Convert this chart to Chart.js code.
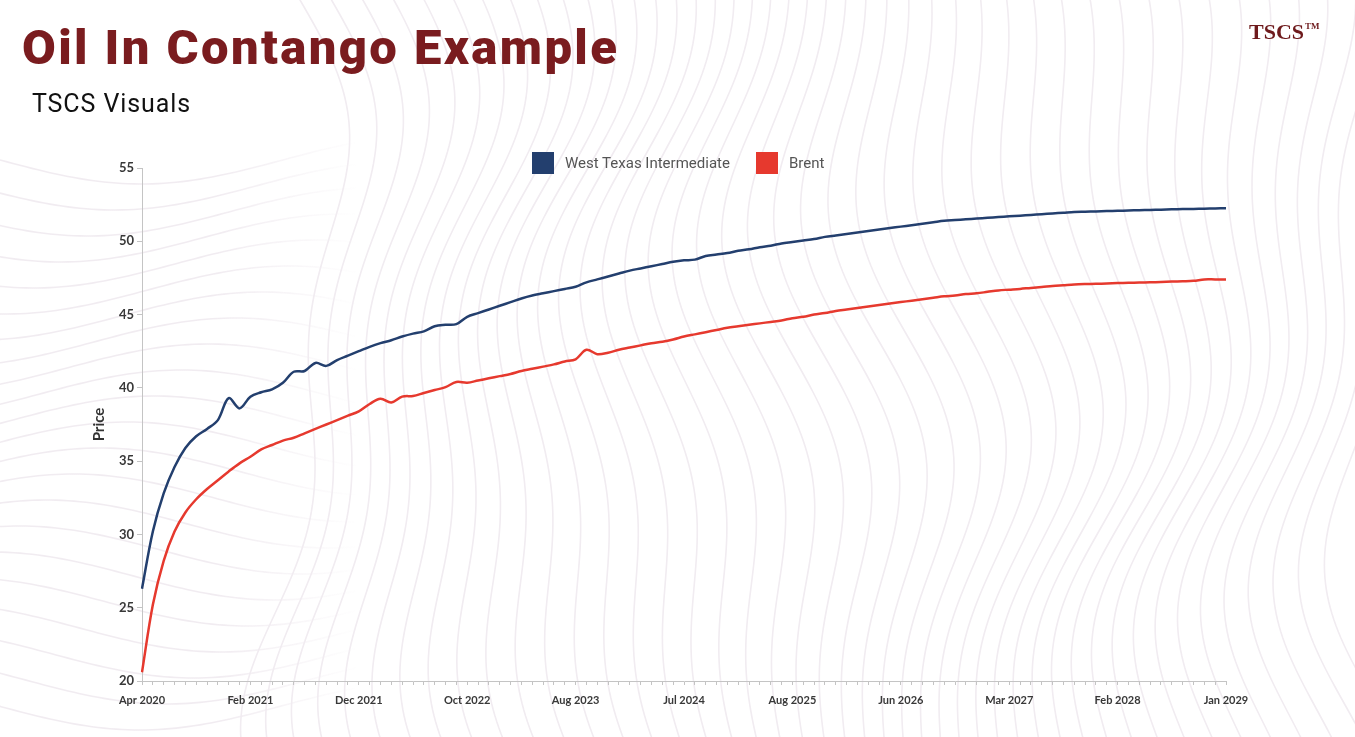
<!DOCTYPE html>
<html>
<head>
<meta charset="utf-8">
<title>Oil In Contango Example</title>
<script src="https://cdn.jsdelivr.net/npm/chart.js@4.4.1/dist/chart.umd.min.js"></script>
<style>
  html, body { margin: 0; padding: 0; background: #fff; }
  body { width: 1355px; height: 737px; position: relative; overflow: hidden; font-family: Roboto, sans-serif; }
  #bg { position: absolute; left: 0; top: 0; }
  #title { position: absolute; left: 22px; top: 19px; margin: 0; font: 900 49px Roboto, sans-serif; color: #7a1c1f; letter-spacing: 2.4px; }
  #subtitle { position: absolute; left: 32px; top: 89px; font: 400 25px Roboto, sans-serif; color: #111; letter-spacing: 0.9px; }
  #brand { position: absolute; left: 1249px; top: 19px; font: 700 22px "Liberation Serif", serif; color: #6e1a1c; }
  #brand sup { font-size: 9px; vertical-align: 10px; margin-left: 1px; }
  #chartBox { position: absolute; left: 0; top: 0; width: 1355px; height: 737px; }
  #legend { position: absolute; top: 152px; left: 532px; display: flex; align-items: center; font: 400 15px Roboto, sans-serif; color: #555; }
  #legend .item { display: flex; align-items: center; margin-right: 26px; }
  #legend .box { width: 22px; height: 22px; margin-right: 11px; }
</style>
</head>
<body>
<canvas id="bg" width="1355" height="737"></canvas>
<h1 id="title">Oil In Contango Example</h1>
<div id="subtitle">TSCS Visuals</div>
<div id="brand">TSCS<sup>TM</sup></div>
<div id="chartBox"><canvas id="oilChart"></canvas></div>
<div id="legend"></div>

<script>
// axis labels shown every 10th contract
const tickLabels = ['Apr 2020', 'Feb 2021', 'Dec 2021', 'Oct 2022', 'Aug 2023', 'Jul 2024',
  'Aug 2025', 'Jun 2026', 'Mar 2027', 'Feb 2028', 'Jan 2029'];

// futures curve, one value per contract (101 contracts)
const wti = [
  26.3, 30.2, 32.8, 34.6, 35.9, 36.7, 37.2, 37.8, 39.3, 38.6,
  39.4, 39.7, 39.9, 40.35, 41.1, 41.15, 41.7, 41.5, 41.9, 42.2,
  42.5, 42.8, 43.05, 43.25, 43.5, 43.7, 43.85, 44.2, 44.3, 44.35,
  44.85, 45.1, 45.35, 45.6, 45.85, 46.1, 46.3, 46.45, 46.6, 46.75,
  46.9, 47.2, 47.4, 47.6, 47.8, 48.0, 48.15, 48.3, 48.45, 48.6,
  48.7, 48.75, 49.0, 49.1, 49.2, 49.35, 49.45, 49.6, 49.7, 49.85,
  49.95, 50.05, 50.15, 50.3, 50.4, 50.5, 50.6, 50.7, 50.8, 50.9,
  51.0, 51.1, 51.2, 51.3, 51.4, 51.45, 51.5, 51.55, 51.6, 51.65,
  51.7, 51.75, 51.8, 51.85, 51.9, 51.95, 52.0, 52.02, 52.04, 52.06,
  52.08, 52.1, 52.12, 52.14, 52.16, 52.18, 52.2, 52.21, 52.22, 52.24,
  52.25
];

const brent = [
  20.6, 25.2, 28.2, 30.2, 31.5, 32.4, 33.1, 33.7, 34.3, 34.85,
  35.3, 35.8, 36.1, 36.4, 36.6, 36.9, 37.2, 37.5, 37.8, 38.1,
  38.4, 38.9, 39.25, 39.0, 39.4, 39.45, 39.65, 39.85, 40.05, 40.4,
  40.35, 40.5, 40.65, 40.8, 40.95, 41.15, 41.3, 41.45, 41.6, 41.8,
  41.95, 42.6, 42.3, 42.4, 42.6, 42.75, 42.9, 43.05, 43.15, 43.3,
  43.5, 43.65, 43.8, 43.95, 44.1, 44.2, 44.3, 44.4, 44.5, 44.6,
  44.75, 44.85, 45.0, 45.1, 45.25, 45.35, 45.45, 45.55, 45.65, 45.75,
  45.85, 45.95, 46.05, 46.15, 46.25, 46.3, 46.4, 46.45, 46.55, 46.65,
  46.7, 46.75, 46.82, 46.88, 46.95, 47.0, 47.05, 47.08, 47.1, 47.12,
  47.15, 47.17, 47.18, 47.2, 47.22, 47.25, 47.27, 47.3, 47.4, 47.4,
  47.4
];

const seriesNames = ['West Texas Intermediate', 'Brent'];
const seriesColors = ['#233f6e', '#e6392e'];

// decorative contour lines behind the chart
function drawBackground() {
  const ctx = document.getElementById('bg').getContext('2d');
  ctx.strokeStyle = '#f1ecf1';
  ctx.lineWidth = 1.6;
  // wavy vertical lines through the middle and right
  for (let k = 0; k < 46; k++) {
    const x0 = 300 + k * 24;
    ctx.beginPath();
    for (let y = -10; y <= 750; y += 6) {
      const x = x0 + 38 * Math.sin(y / 150 + k * 0.17) + 22 * Math.sin(y / 67 + k * 0.05);
      if (y === -10) ctx.moveTo(x, y); else ctx.lineTo(x, y);
    }
    ctx.stroke();
  }
  // softer horizontal bands on the left, fading out towards the middle
  const fade = ctx.createLinearGradient(0, 0, 360, 0);
  fade.addColorStop(0, '#f1ecf1');
  fade.addColorStop(0.6, '#f1ecf1');
  fade.addColorStop(1, 'rgba(241,236,241,0)');
  ctx.strokeStyle = fade;
  for (let k = 0; k < 22; k++) {
    const y0 = 160 + k * 26;
    ctx.beginPath();
    for (let x = -10; x <= 360; x += 6) {
      const y = y0 + 24 * Math.sin(x / 90 + k * 0.3);
      if (x === -10) ctx.moveTo(x, y); else ctx.lineTo(x, y);
    }
    ctx.stroke();
  }
}

function buildLegend() {
  const legend = document.getElementById('legend');
  seriesNames.forEach((name, i) => {
    const item = document.createElement('div');
    item.className = 'item';
    item.innerHTML = '<span class="box" style="background:' + seriesColors[i] + '"></span>' + name;
    legend.appendChild(item);
  });
}

function renderChart() {
  const categories = wti.map((v, i) => (i % 10 === 0 ? tickLabels[i / 10] : ''));
  const ctx = document.getElementById('oilChart').getContext('2d');

  new Chart(ctx, {
    type: 'line',
    data: {
      labels: categories,
      datasets: [
        { label: seriesNames[0], data: wti, borderColor: seriesColors[0], backgroundColor: seriesColors[0] },
        { label: seriesNames[1], data: brent, borderColor: seriesColors[1], backgroundColor: seriesColors[1] }
      ]
    },
    options: {
      responsive: true,
      maintainAspectRatio: false,
      animation: false,
      layout: { padding: { left: 86, top: 168, right: 129, bottom: 0 } },
      elements: {
        point: { radius: 0 },
        line: { borderWidth: 2.5, tension: 0.35 }
      },
      plugins: {
        legend: { display: false },
        tooltip: { enabled: false }
      },
      scales: {
        x: {
          grid: { drawOnChartArea: false, color: '#c4c4c4', tickLength: 4 },
          border: { color: '#c4c4c4' },
          ticks: {
            autoSkip: false,
            maxRotation: 0,
            padding: 9,
            color: '#383838',
            font: { family: 'Lato', weight: 'bold', size: 11 }
          },
          afterFit: (scale) => { scale.height = 56; }
        },
        y: {
          min: 20,
          max: 55,
          grid: { drawOnChartArea: false, color: '#c4c4c4', tickLength: 5 },
          border: { color: '#c4c4c4' },
          ticks: {
            stepSize: 5,
            padding: 3,
            color: '#383838',
            font: { family: 'Lato', weight: 'bold', size: 13 }
          },
          title: {
            display: true,
            text: 'Price',
            color: '#333',
            font: { family: 'Lato', weight: 'bold', size: 15 }
          },
          afterFit: (scale) => { scale.width = 56; }
        }
      }
    }
  });
}

drawBackground();
buildLegend();
renderChart();
</script>
</body>
</html>
